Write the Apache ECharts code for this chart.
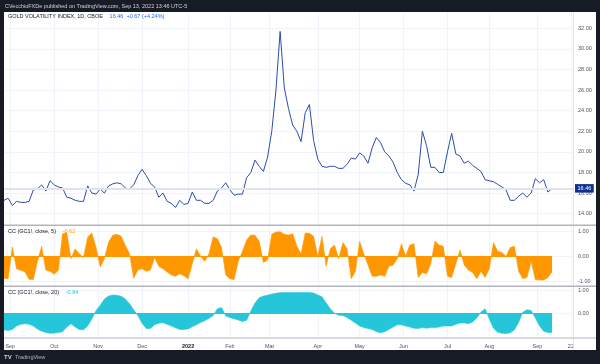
<!DOCTYPE html>
<html><head><meta charset="utf-8">
<script src="https://cdn.jsdelivr.net/npm/echarts@6/dist/echarts.min.js"></script>
<style>
html,body{margin:0;padding:0;background:#171b26;width:600px;height:364px;overflow:hidden;}
#panel{position:absolute;left:4px;top:12px;width:592px;height:338px;background:#ffffff;}
#chart{position:absolute;left:0;top:0;width:600px;height:364px;}
</style></head><body>
<div id="panel"></div><div id="chart"></div>
<script>
// ---- data (daily bars, sampled every 2 trading days from 27 Aug 2021 to 13 Sep 2022) ----
const monthLabels = ['Sep','Oct','Nov','Dec','2022','Feb','Mar','Apr','May','Jun','Jul','Aug','Sep','22'];
const monthBars   = [3, 24, 45, 66, 88, 108, 127, 150, 170, 191, 212, 232, 255, 271];
const barCount = 273;
const sampleStep = 2;
const priceTicks = [14,16,18,20,22,24,26,28,30,32];
const ccTicks = [-1,0,1];

const gvz = [15.3,15.5,14.8,15.2,15.1,15.1,15.2,16.3,16.4,16.8,
16.2,17.2,16.8,16.6,16.5,15.6,15.5,15.3,15.2,15.2,
16.7,16.0,15.9,16.4,16.0,16.7,16.9,17.0,16.9,16.5,
16.4,16.8,17.7,18.3,17.7,16.95,16.6,15.6,16.0,15.2,
15.0,14.6,15.3,14.9,15.0,16.1,15.3,15.3,15.0,15.0,
15.3,16.2,16.5,17.0,16.3,15.8,15.9,15.9,17.5,18.0,
19.2,18.6,18.1,19.5,22.0,26.0,31.7,26.2,24.2,22.6,
22.0,21.0,23.8,24.6,21.1,19.3,18.6,18.5,18.6,18.6,
18.4,18.4,18.8,19.4,19.3,19.9,19.6,18.9,20.4,21.4,
20.9,20.0,19.6,19.0,18.0,17.3,16.95,16.8,16.2,17.8,
22.0,20.6,18.5,18.5,18.0,18.0,20.0,21.8,19.8,19.6,
18.9,19.1,18.7,18.4,18.1,17.3,17.2,17.1,16.85,16.6,
16.3,15.3,15.3,15.7,16.0,15.6,16.0,17.4,17.0,17.3,
16.1,16.46];

const cc5 = [-0.88,-0.9,0.37,-0.5,-0.56,-0.62,-0.92,-0.93,-0.2,0.4,
-0.55,-0.6,-0.72,-0.56,0.9,0.95,-0.1,0.3,0.1,-0.05,
0.77,0.93,0.35,-0.43,-0.1,0.57,0.84,0.88,0.8,0.44,
0.1,-0.88,-0.55,-0.5,-0.6,-0.55,-0.05,-0.4,-0.5,-0.63,
-0.75,-0.8,-0.7,-0.78,-0.9,-0.3,0.3,0.0,-0.2,0.1,
0.78,0.7,0.35,-0.75,-0.9,-0.93,-0.2,0.2,0.65,0.85,
0.84,0.6,-0.25,-0.15,0.88,0.97,0.98,0.88,0.85,0.9,
0.4,0.1,0.93,0.92,0.8,0.0,0.8,-0.4,0.3,0.45,
-0.1,0.55,0.3,-0.9,-0.6,0.6,0.1,-0.35,-0.8,-0.8,
-0.75,-0.8,-0.4,-0.35,-0.1,0.5,0.0,0.45,0.5,-0.85,
-0.65,-0.7,-0.3,0.6,0.45,0.4,-0.8,-0.85,-0.3,0.25,
-0.35,-0.55,-0.65,-0.9,-0.6,-0.85,-0.5,0.55,0.2,0.15,
0.0,0.35,0.4,-0.6,-0.9,-0.85,-0.2,-0.93,-0.95,-0.95,
-0.85,-0.62];

const cc20 = [-0.72,-0.75,-0.7,-0.55,-0.48,-0.45,-0.48,-0.55,-0.68,-0.78,
-0.83,-0.87,-0.86,-0.83,-0.8,-0.6,-0.45,-0.6,-0.7,-0.72,
-0.55,-0.25,0.12,0.35,0.62,0.75,0.8,0.78,0.74,0.62,
0.42,0.15,-0.1,-0.43,-0.66,-0.66,-0.5,-0.43,-0.41,-0.48,
-0.55,-0.63,-0.7,-0.7,-0.68,-0.58,-0.5,-0.4,-0.32,-0.22,
-0.1,0.2,0.25,-0.12,-0.18,-0.24,-0.29,-0.36,-0.3,0.1,
0.45,0.68,0.75,0.79,0.84,0.87,0.9,0.9,0.9,0.9,
0.9,0.9,0.9,0.9,0.88,0.8,0.72,0.45,0.2,0.0,
-0.08,-0.1,-0.18,-0.3,-0.42,-0.55,-0.62,-0.66,-0.7,-0.8,
-0.85,-0.8,-0.7,-0.6,-0.5,-0.5,-0.55,-0.6,-0.65,-0.66,
-0.62,-0.65,-0.62,-0.62,-0.6,-0.55,-0.55,-0.55,-0.48,-0.42,
-0.42,-0.45,-0.38,-0.2,0.05,0.2,-0.25,-0.65,-0.82,-0.87,
-0.88,-0.85,-0.72,-0.4,0.05,0.15,0.12,-0.2,-0.55,-0.78,
-0.84,-0.84];

// ---- build ----
const cats = new Array(barCount).fill('');
monthBars.forEach((b, k) => { cats[b] = monthLabels[k]; });
const toXY = arr => arr.map((v, i) => [i * sampleStep, v]);
const lastBar = (gvz.length - 1) * sampleStep;
const FONT = 'Liberation Sans, Arial, sans-serif';
const isLab = (i, v) => v !== '';

const chart = echarts.init(document.getElementById('chart'), null, {renderer: 'canvas'});
const xAx = g => ({
  type: 'category', gridIndex: g, data: cats, boundaryGap: false,
  axisLine: {show: false}, axisTick: {show: false},
  axisLabel: {show: g === 2, interval: isLab, margin: 5, fontSize: 5.5, fontFamily: FONT, color: '#50535e',
    formatter: v => (/^\d{4}$/.test(v) ? '{y|' + v + '}' : v),
    rich: {y: {fontSize: 5.5, fontFamily: FONT, color: '#131722', fontWeight: 'bold'}}},
  splitLine: {show: true, interval: isLab, lineStyle: {color: '#f0f3fa', width: 1}}
});
const yAx = (g, min, max, ticks, fmt) => ({
  type: 'value', gridIndex: g, position: 'right', min: min, max: max,
  axisLine: {show: false},
  axisTick: {show: false, customValues: ticks},
  axisLabel: {customValues: ticks, margin: 5, fontSize: 5.5, fontFamily: FONT, color: '#50535e', formatter: fmt},
  splitLine: {show: true, lineStyle: {color: '#f0f3fa', width: 1}}
});

const boxLabel = (bg, fg) => ({show: true, position: 'end', distance: 2, backgroundColor: bg, color: fg,
  padding: [1.5, 2.5, 1, 2.5], fontSize: 5.5, fontFamily: FONT, formatter: p => p.value.toFixed(2)});

chart.setOption({
  animation: false,
  grid: [
    {left: 4, right: 27, top: 12, height: 213},
    {left: 4, right: 27, top: 225, height: 61},
    {left: 4, right: 27, top: 286, height: 52}
  ],
  xAxis: [xAx(0), xAx(1), xAx(2)],
  yAxis: [
    yAx(0, 12.903, 33.583, priceTicks, v => v.toFixed(2)),
    yAx(1, -1.188, 1.252, ccTicks, v => v.toFixed(2)),
    yAx(2, -1.074, 1.187, [0, 1], v => v.toFixed(2))
  ],
  series: [
    {type: 'line', xAxisIndex: 0, yAxisIndex: 0, data: toXY(gvz), showSymbol: false, symbol: 'none',
      lineStyle: {color: '#2b4cad', width: 1}, z: 3,
      markLine: {silent: true, symbol: ['none', 'none'], animation: false,
        data: [{yAxis: gvz[gvz.length - 1], lineStyle: {color: '#dfe3ee', width: 2, type: 'solid'},
          label: boxLabel('#0f2f8f', '#ffffff')}]}},
    {type: 'line', xAxisIndex: 1, yAxisIndex: 1, data: toXY(cc5), showSymbol: false, symbol: 'none',
      lineStyle: {color: '#ff9800', width: 0.6}, areaStyle: {color: '#ff9800', opacity: 1},
      markLine: {silent: true, symbol: ['none', 'none'], animation: false,
        data: [
          [{coord: [0, 0], lineStyle: {color: '#ff9800', width: 1, type: 'solid'}, label: {show: false}}, {coord: [lastBar, 0]}],
          {yAxis: cc5[cc5.length - 1], lineStyle: {opacity: 0}, label: boxLabel('#ff9800', '#131722')}
        ]}},
    {type: 'line', xAxisIndex: 2, yAxisIndex: 2, data: toXY(cc20), showSymbol: false, symbol: 'none',
      lineStyle: {color: '#26c6da', width: 0.6}, areaStyle: {color: '#26c6da', opacity: 1},
      markLine: {silent: true, symbol: ['none', 'none'], animation: false,
        data: [
          [{coord: [0, 0], lineStyle: {color: '#26c6da', width: 1, type: 'solid'}, label: {show: false}}, {coord: [lastBar, 0]}],
          {yAxis: cc20[cc20.length - 1], lineStyle: {opacity: 0}, label: boxLabel('#26c6da', '#131722')}
        ]}}
  ],
  graphic: [
    {type: 'rect', z: 100, shape: {x: 573, y: 12, width: 1, height: 338}, style: {fill: '#e0e3eb'}},
    {type: 'rect', z: 100, shape: {x: 4, y: 224.5, width: 592, height: 1.5}, style: {fill: '#b2b5be'}},
    {type: 'rect', z: 100, shape: {x: 4, y: 285.5, width: 592, height: 1.5}, style: {fill: '#b2b5be'}},
    {type: 'rect', z: 100, shape: {x: 4, y: 337.5, width: 592, height: 1}, style: {fill: '#b2b5be'}},
    {type: 'text', z: 100, x: 5, y: 6, style: {text: 'CVecchioFXDe published on TradingView.com, Sep 13, 2022 13:46 UTC-5',
      fill: '#d1d4dc', fontSize: 5.5, fontFamily: FONT, verticalAlign: 'middle'}},
    {type: 'text', z: 100, x: 8, y: 16.5, style: {text: '{a|GOLD VOLATILITY INDEX, 1D, CBOE}  {b|16.46  +0.67 (+4.24%)}',
      verticalAlign: 'middle',
      rich: {a: {fill: '#131722', fontSize: 5.5, fontFamily: FONT}, b: {fill: '#2962ff', fontSize: 5.5, fontFamily: FONT}}}},
    {type: 'text', z: 100, x: 8, y: 231.5, style: {text: '{a|CC (GC1!, close, 5)}  {b|-0.62}', verticalAlign: 'middle',
      rich: {a: {fill: '#131722', fontSize: 5.5, fontFamily: FONT}, b: {fill: '#ff9800', fontSize: 5.5, fontFamily: FONT}}}},
    {type: 'text', z: 100, x: 8, y: 292.5, style: {text: '{a|CC (GC1!, close, 20)}  {b|-0.84}', verticalAlign: 'middle',
      rich: {a: {fill: '#131722', fontSize: 5.5, fontFamily: FONT}, b: {fill: '#26c6da', fontSize: 5.5, fontFamily: FONT}}}},
    {type: 'text', z: 100, x: 4, y: 357.5, style: {text: '{l|TV} {t|TradingView}', verticalAlign: 'middle',
      rich: {l: {fill: '#d1d4dc', fontSize: 6, fontWeight: 'bold', fontFamily: FONT}, t: {fill: '#b2b5be', fontSize: 5.5, fontFamily: FONT}}}}
  ]
});
</script>
</body></html>
